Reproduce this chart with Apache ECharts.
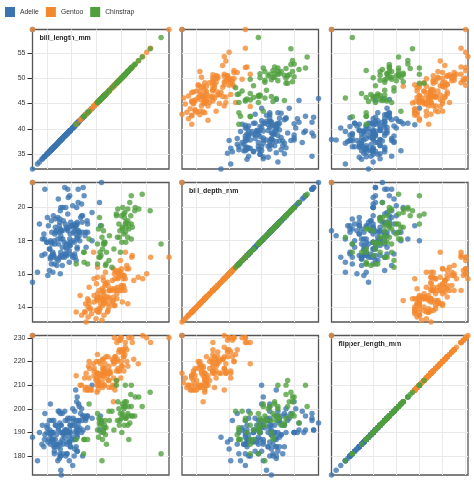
<!DOCTYPE html>
<html><head><meta charset="utf-8">
<script src="https://cdn.jsdelivr.net/npm/echarts@6/dist/echarts.min.js"></script>
<style>html,body{margin:0;padding:0;background:#fff}#c{width:474px;height:482px}</style>
</head><body><div id="c"></div>
<script>
const species = ['Adelie', 'Gentoo', 'Chinstrap'];
const fields = ['bill_length_mm', 'bill_depth_mm', 'flipper_length_mm'];

const adelieBillLength = [39.1,39.5,40.3,null,36.7,39.3,38.9,39.2,34.1,42.0,37.8,37.8,41.1,38.6,34.6,36.6,38.7,42.5,34.4,46.0,
37.8,37.7,35.9,38.2,38.8,35.3,40.6,40.5,37.9,40.5,39.5,37.2,39.5,40.9,36.4,39.2,38.8,42.2,37.6,39.8,
36.5,40.8,36.0,44.1,37.0,39.6,41.1,37.5,36.0,42.3,39.6,40.1,35.0,42.0,34.5,41.4,39.0,40.6,36.5,37.6,
35.7,41.3,37.6,41.1,36.4,41.6,35.5,41.1,35.9,41.8,33.5,39.7,39.6,45.8,35.5,42.8,40.9,37.2,36.2,42.1,
34.6,42.9,36.7,35.1,37.3,41.3,36.3,36.9,38.3,38.9,35.7,41.1,34.0,39.6,36.2,40.8,38.1,40.3,33.1,43.2,
35.0,41.0,37.7,37.8,37.9,39.7,38.6,38.2,38.1,43.2,38.1,45.6,39.7,42.2,39.6,42.7,38.6,37.3,35.7,41.1,
36.2,37.7,40.2,41.4,35.2,40.6,38.8,41.5,39.0,44.1,38.5,43.1,36.8,37.5,38.1,41.1,35.6,40.2,37.0,39.7,
40.2,40.6,32.1,40.7,37.3,39.0,39.2,36.6,36.0,37.8,36.0,41.5];
const adelieBillDepth = [18.7,17.4,18.0,null,19.3,20.6,17.8,19.6,18.1,20.2,17.1,17.3,17.6,21.2,21.1,17.8,19.0,20.7,18.4,21.5,
18.3,18.7,19.2,18.1,17.2,18.9,18.6,17.9,18.6,18.9,16.7,18.1,17.8,18.9,17.0,21.1,20.0,18.5,19.3,19.1,
18.0,18.4,18.5,19.7,16.9,18.8,19.0,18.9,17.9,21.2,17.7,18.9,17.9,19.5,18.1,18.6,17.5,18.8,16.6,19.1,
16.9,21.1,17.0,18.2,17.1,18.0,16.2,19.1,16.6,19.4,19.0,18.4,17.2,18.9,17.5,18.5,16.8,19.4,16.1,19.1,
17.2,17.6,18.8,19.4,17.8,20.3,19.5,18.6,19.2,18.8,18.0,18.1,17.1,18.1,17.3,18.9,18.6,18.5,16.1,18.5,
17.9,20.0,16.0,20.0,18.6,18.9,17.2,20.0,17.0,19.0,16.5,20.3,17.7,19.5,20.7,18.3,17.0,20.5,17.0,18.6,
17.2,19.8,17.0,18.5,15.9,19.0,17.6,18.3,17.1,18.0,17.9,19.2,18.5,18.5,17.6,17.5,17.5,20.1,16.5,17.9,
17.1,17.2,15.5,17.0,16.8,18.7,18.6,18.4,17.8,18.1,17.1,18.5];
const adelieFlipper = [181,186,195,null,193,190,181,195,193,190,186,180,182,191,198,185,195,197,184,194,
174,180,189,185,180,187,183,187,172,180,178,178,188,184,195,196,190,180,181,184,
182,195,186,196,185,190,182,179,190,191,186,188,190,200,187,191,186,193,181,194,
185,195,185,192,184,192,195,188,190,198,190,190,196,197,190,195,191,184,187,195,
189,196,187,193,191,194,190,189,189,190,202,205,185,186,187,208,190,196,178,192,
192,203,183,190,193,184,199,190,181,197,198,191,193,197,191,196,188,199,189,189,
187,198,176,202,186,199,191,195,191,210,190,197,193,199,187,190,191,200,185,193,
193,187,188,190,192,185,190,184,195,193,187,201];

const gentooBillLength = [46.1,50.0,48.7,50.0,47.6,46.5,45.4,46.7,43.3,46.8,40.9,49.0,45.5,48.4,45.8,49.3,42.0,49.2,46.2,48.7,
50.2,45.1,46.5,46.3,42.9,46.1,44.5,47.8,48.2,50.0,47.3,42.8,45.1,59.6,49.1,48.4,42.6,44.4,44.0,48.7,
42.7,49.6,45.3,49.6,50.5,43.6,45.5,50.5,44.9,45.2,46.6,48.5,45.1,50.1,46.5,45.0,43.8,45.5,43.2,50.4,
45.3,46.2,45.7,54.3,45.8,49.8,46.2,49.5,43.5,50.7,47.7,46.4,48.2,46.5,46.4,48.6,47.5,51.1,45.2,45.2,
49.1,52.5,47.4,50.0,44.9,50.8,43.4,51.3,47.5,52.1,47.5,52.2,45.5,49.5,44.5,50.8,49.4,46.9,48.4,51.1,
48.5,55.9,47.2,49.1,47.3,46.8,41.7,53.4,43.3,48.1,50.5,49.8,43.5,51.5,46.2,55.1,44.5,48.8,47.2,null,
46.8,50.4,45.2,49.9];
const gentooBillDepth = [13.2,16.3,14.1,15.2,14.5,13.5,14.6,15.3,13.4,15.4,13.7,16.1,13.7,14.6,14.6,15.7,13.5,15.2,14.5,15.1,
14.3,14.5,14.5,15.8,13.1,15.1,14.3,15.0,14.3,15.3,15.3,14.2,14.5,17.0,14.8,16.3,13.7,17.3,13.6,15.7,
13.7,16.0,13.7,15.0,15.9,13.9,13.9,15.9,13.3,15.8,14.2,14.1,14.4,15.0,14.4,15.4,13.9,15.0,14.5,15.3,
13.8,14.9,13.9,15.7,14.2,16.8,14.4,16.2,14.2,15.0,15.0,15.6,15.6,14.8,15.0,16.0,14.2,16.3,13.8,16.4,
14.5,15.6,14.6,15.9,13.8,17.3,14.4,14.2,14.0,17.0,15.0,17.1,14.5,16.1,14.7,15.7,15.8,14.6,14.4,16.5,
15.0,17.0,15.5,15.0,13.8,16.1,14.7,15.8,14.0,15.1,15.2,15.9,15.2,16.3,14.1,16.0,15.7,16.2,13.7,null,
14.3,15.7,14.8,16.1];
const gentooFlipper = [211,230,210,218,215,210,211,219,209,215,214,216,214,213,210,217,210,221,209,222,
218,215,213,215,215,215,216,215,210,220,222,209,207,230,220,220,213,219,208,208,
208,225,210,216,222,217,210,225,213,215,210,220,210,225,217,220,208,220,208,224,
208,221,214,231,219,230,214,229,220,223,216,221,221,217,216,230,209,220,215,223,
212,221,212,224,212,228,218,218,212,230,218,228,212,224,214,226,216,222,203,225,
219,228,215,228,216,215,210,219,208,209,216,229,213,230,217,230,217,222,214,null,
215,222,212,213];

const chinstrapBillLength = [46.5,50.0,51.3,45.4,52.7,45.2,46.1,51.3,46.0,51.3,46.6,51.7,47.0,52.0,45.9,50.5,50.3,58.0,46.4,49.2,
42.4,48.5,43.2,50.6,46.7,52.0,50.5,49.5,46.4,52.8,40.9,54.2,42.5,51.0,49.7,47.5,47.6,52.0,46.9,53.5,
49.0,46.2,50.9,45.5,50.9,50.8,50.1,49.0,51.5,49.8,48.1,51.4,45.7,50.7,42.5,52.2,45.2,49.3,50.2,45.6,
51.9,46.8,45.7,55.8,43.5,49.6,50.8,50.2];
const chinstrapBillDepth = [17.9,19.5,19.2,18.7,19.8,17.8,18.2,18.2,18.9,19.9,17.8,20.3,17.3,18.1,17.1,19.6,20.0,17.8,18.6,18.2,
17.3,17.5,16.6,19.4,17.9,19.0,18.4,19.0,17.8,20.0,16.6,20.8,16.7,18.8,18.6,16.8,18.3,20.7,16.6,19.9,
19.5,17.5,19.1,17.0,17.9,18.5,17.9,19.6,18.7,17.3,16.4,19.0,17.3,19.7,17.3,18.8,16.6,19.9,18.8,19.4,
19.5,16.5,17.0,19.8,18.1,18.2,19.0,18.7];
const chinstrapFlipper = [192,196,193,188,197,198,178,197,195,198,193,194,185,201,190,201,197,181,190,195,
181,191,187,193,195,197,200,200,191,205,187,201,187,203,195,199,195,210,192,205,
210,187,196,196,196,201,190,212,187,198,199,201,193,203,187,197,191,203,202,194,
206,189,195,207,202,193,210,198];

const billLengthTicks = [35, 40, 45, 50, 55];
const billDepthTicks = [14, 16, 18, 20];
const flipperTicks = [180, 190, 200, 210, 220, 230];

const speciesColors = ['#3b74b0', '#f3892f', '#4f9f3e'];
const values = {
  Adelie: [adelieBillLength, adelieBillDepth, adelieFlipper],
  Gentoo: [gentooBillLength, gentooBillDepth, gentooFlipper],
  Chinstrap: [chinstrapBillLength, chinstrapBillDepth, chinstrapFlipper]
};
const ticks = [billLengthTicks, billDepthTicks, flipperTicks];

function extent(f) {
  const all = [];
  species.forEach(s => values[s][f].forEach(v => { if (v != null) all.push(v); }));
  return [Math.min(...all), Math.max(...all)];
}
const domains = [0, 1, 2].map(extent);

const FONT = '"Liberation Sans", Arial, Helvetica, sans-serif';
const cellLeft = [32.5, 182, 331.5];
const cellTop = [29.5, 182.5, 335.5];
const cellW = 136.5, cellH = 139.5;

const grid = [], xAxis = [], yAxis = [], series = [], graphic = [];
for (let i = 0; i < 3; i++) {
  for (let j = 0; j < 3; j++) {
    const k = i * 3 + j;
    grid.push({
      left: cellLeft[j], top: cellTop[i], width: cellW, height: cellH,
      show: true, borderColor: '#555', borderWidth: 1.3, backgroundColor: 'transparent'
    });
    xAxis.push({
      type: 'value', gridIndex: k, min: domains[j][0], max: domains[j][1],
      axisLine: { show: false },
      axisTick: { show: false, customValues: ticks[j] },
      axisLabel: { show: false, customValues: ticks[j] },
      splitLine: { show: true, lineStyle: { color: '#e9e9e9', width: 1 } }
    });
    yAxis.push({
      type: 'value', gridIndex: k, min: domains[i][0], max: domains[i][1],
      axisLine: { show: false },
      axisTick: { show: j === 0, length: 5, lineStyle: { color: '#333', width: 1 }, customValues: ticks[i] },
      axisLabel: { show: j === 0, customValues: ticks[i], fontSize: 7, color: '#333', margin: 7, fontFamily: FONT },
      splitLine: { show: true, lineStyle: { color: '#e9e9e9', width: 1 } }
    });
    species.forEach((s, si) => {
      const xs = values[s][j], ys = values[s][i];
      const data = xs.map((xv, r) => [
        xv == null ? domains[j][0] : xv,
        ys[r] == null ? domains[i][1] : ys[r]
      ]);
      series.push({
        type: 'scatter', name: s, xAxisIndex: k, yAxisIndex: k,
        data: data, symbolSize: 5.5, clip: false,
        itemStyle: { color: speciesColors[si], opacity: 0.78 },
        emphasis: { disabled: true }
      });
    });
  }
  graphic.push({
    type: 'text', left: cellLeft[i] + 7, top: cellTop[i] + 5.5,
    style: { text: fields[i], font: 'bold 7px ' + FONT, fill: '#222' }
  });
}

const chart = echarts.init(document.getElementById('c'), null, { renderer: 'canvas' });
chart.setOption({
  animation: false,
  color: speciesColors,
  legend: {
    data: species, left: 0, top: 2, icon: 'rect', itemWidth: 10, itemHeight: 10, itemGap: 7,
    textStyle: { fontSize: 6.8, color: '#333', fontFamily: FONT },
    itemStyle: { opacity: 1 }
  },
  grid, xAxis, yAxis, series, graphic
});
</script>
</body></html>
